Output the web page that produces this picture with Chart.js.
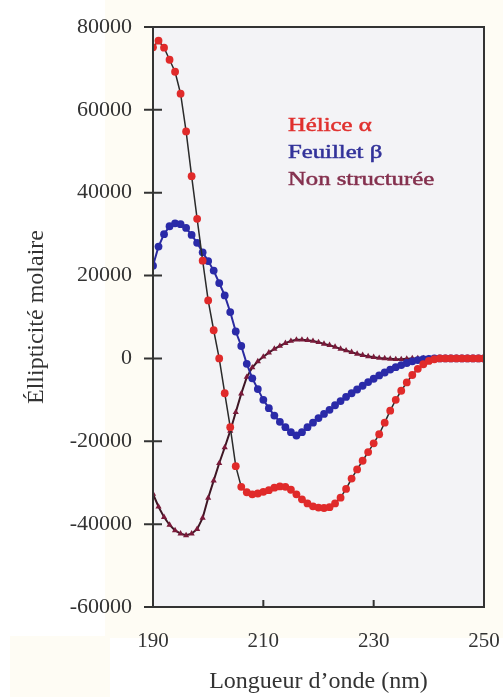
<!DOCTYPE html>
<html>
<head>
<meta charset="utf-8">
<script src="https://cdn.jsdelivr.net/npm/chart.js@4.4.1/dist/chart.umd.min.js"></script>
<style>
  html, body { margin: 0; padding: 0; background: #ffffff; }
  #wrap { width: 503px; height: 697px; }
</style>
</head>
<body>
<div id="wrap"><canvas id="cd" width="503" height="697"></canvas></div>
<script>
// wavelengths, 1 nm steps
const wavelengths = [];
for (let nm = 190; nm <= 250; nm++) wavelengths.push(nm);

// molar ellipticity
const helice = [
  75100, 76700, 75000, 72100, 69200, 63900, 54800, 44000, 33700, 23600,
  14000, 6800, 0, -8400, -16600, -26000, -31000, -32300, -32800, -32600,
  -32200, -31800, -31200, -30900, -31000, -31700, -32800, -34000, -35000, -35700,
  -36000, -36100, -35900, -35000, -33600, -31500, -29000, -26800, -24700, -22600,
  -20500, -18300, -15500, -12600, -10000, -7800, -5800, -4000, -2500, -1400,
  -600, -200, 0, 0, 0, 0, 0, 0, 0, 0, 0
];
const feuillet = [
  22400, 27000, 30000, 31900, 32600, 32400, 31500, 29800, 27900, 25600,
  23500, 21200, 18200, 15200, 11200, 6500, 3000, -1300, -4800, -7400,
  -10000, -12000, -13800, -15300, -16600, -17800, -18600, -17800, -16600, -15500,
  -14400, -13400, -12400, -11300, -10300, -9300, -8400, -7500, -6600, -5700,
  -4900, -4100, -3400, -2700, -2100, -1600, -1100, -700, -400, -200,
  -100, 0, 0, 0, 0, 0, 0, 0, 0, 0, 0
];
const nonStructuree = [
  -32700, -35800, -38300, -40200, -41500, -42300, -42700, -42300, -41200, -38500,
  -33700, -29500, -25300, -21500, -17500, -13000, -8500, -4500, -2200, -700,
  400, 1400, 2300, 3000, 3700, 4200, 4500, 4500, 4400, 4200,
  3900, 3500, 3200, 2800, 2300, 1900, 1500, 1100, 800, 500,
  300, 100, 0, -100, -200, -200, -100, 0, 0, 0,
  0, 0, 0, 0, 0, 0, 0, 0, 0, 0, 0
];

const xTicks = [190, 210, 230, 250];
const yTicks = [-60000, -40000, -20000, 0, 20000, 40000, 60000, 80000];

const legendLabels = ['Hélice α', 'Feuillet β', 'Non structurée'];
const legendColors = ['#e0302e', '#33339a', '#84304e'];

const toPoints = arr => arr.map((v, i) => ({ x: wavelengths[i], y: v }));

const serif = '"Liberation Serif", "Times New Roman", serif';

// backgrounds, frame, crossing ticks and the in-plot legend
const decor = {
  id: 'decor',
  beforeDraw(chart) {
    const { ctx, chartArea: a } = chart;
    ctx.save();
    ctx.fillStyle = '#fefcf4';
    ctx.fillRect(105, 0, 398, 638);
    ctx.fillRect(10, 636, 100, 61);
    ctx.fillStyle = '#f3f3f6';
    ctx.fillRect(a.left, a.top, a.right - a.left, a.bottom - a.top);
    ctx.restore();
  },
  afterDatasetsDraw(chart) {
    const { ctx, chartArea: a, scales } = chart;
    ctx.save();
    ctx.strokeStyle = '#333333';
    ctx.lineWidth = 2;
    ctx.strokeRect(a.left, a.top, a.right - a.left, a.bottom - a.top);
    ctx.beginPath();
    yTicks.forEach(v => {
      const y = scales.y.getPixelForValue(v);
      ctx.moveTo(a.left - 9, y);
      ctx.lineTo(a.left + 9, y);
    });
    xTicks.slice(1, -1).forEach(v => {
      const x = scales.x.getPixelForValue(v);
      ctx.moveTo(x, a.bottom);
      ctx.lineTo(x, a.bottom - 7);
    });
    ctx.stroke();

    // legend text sits inside the plot, slightly wide like the original
    ctx.font = '19px ' + serif;
    ctx.textBaseline = 'middle';
    ctx.lineWidth = 0.5;
    legendLabels.forEach((t, i) => {
      ctx.save();
      ctx.translate(288, 126 + i * 27);
      ctx.scale(1.3, 1);
      ctx.fillStyle = legendColors[i];
      ctx.strokeStyle = legendColors[i];
      ctx.fillText(t, 0, 0);
      ctx.strokeText(t, 0, 0);
      ctx.restore();
    });
    ctx.restore();
  }
};

new Chart(document.getElementById('cd'), {
  type: 'scatter',
  data: {
    datasets: [
      {
        label: 'Hélice α',
        data: toPoints(helice),
        showLine: true,
        borderColor: '#2a2a2a',
        borderWidth: 1.5,
        pointRadius: 3.9,
        pointBackgroundColor: '#e02a2a',
        pointBorderColor: '#e02a2a',
        pointBorderWidth: 0
      },
      {
        label: 'Feuillet β',
        data: toPoints(feuillet),
        showLine: true,
        borderColor: '#2a2aa0',
        borderWidth: 2,
        pointRadius: 3.9,
        pointBackgroundColor: '#2a2aa8',
        pointBorderColor: '#2a2aa8',
        pointBorderWidth: 0
      },
      {
        label: 'Non structurée',
        data: toPoints(nonStructuree),
        showLine: true,
        borderColor: '#3e1624',
        borderWidth: 2,
        pointStyle: 'triangle',
        pointRadius: 3.6,
        pointBackgroundColor: '#7a1a3a',
        pointBorderColor: '#7a1a3a',
        pointBorderWidth: 0
      }
    ]
  },
  options: {
    responsive: false,
    animation: false,
    devicePixelRatio: 1,
    layout: { padding: { top: 27, right: 19, left: 0, bottom: 0 } },
    plugins: {
      legend: { display: false },
      tooltip: { enabled: false }
    },
    scales: {
      x: {
        type: 'linear',
        min: 190,
        max: 250,
        afterFit: s => {
          s.height = 90;
          s.paddingLeft = 0;
          s.paddingRight = 0;
        },
        afterBuildTicks: s => { s.ticks = xTicks.map(v => ({ value: v })); },
        grid: { display: false, drawTicks: false },
        border: { display: false },
        ticks: {
          padding: 22,
          color: '#333333',
          font: { family: serif, size: 21 }
        },
        title: {
          display: true,
          text: 'Longueur d’onde (nm)',
          color: '#333333',
          font: { family: serif, size: 24 },
          padding: { top: 0, bottom: 1 }
        }
      },
      y: {
        min: -60000,
        max: 80000,
        afterFit: s => {
          s.width = 153;
          s.paddingTop = 0;
          s.paddingBottom = 0;
        },
        afterBuildTicks: s => { s.ticks = yTicks.map(v => ({ value: v })); },
        grid: { display: false, drawTicks: false },
        border: { display: false },
        ticks: {
          padding: 21,
          color: '#333333',
          font: { family: serif, size: 22 },
          callback: v => String(v)
        },
        title: {
          display: true,
          text: 'Éllipticité molaire',
          color: '#333333',
          font: { family: serif, size: 24 },
          padding: { top: 22, bottom: 0 }
        }
      }
    }
  },
  plugins: [decor]
});
</script>
</body>
</html>
